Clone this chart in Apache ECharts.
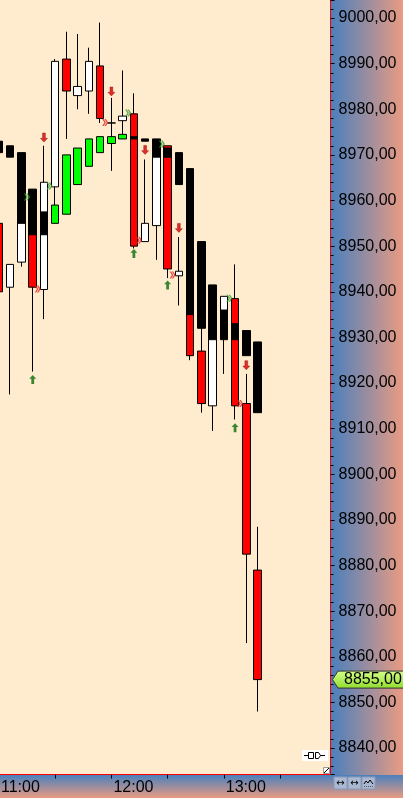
<!DOCTYPE html>
<html><head><meta charset="utf-8">
<script src="https://cdn.jsdelivr.net/npm/echarts@6/dist/echarts.min.js"></script>
<style>
html,body{margin:0;padding:0;background:#fff;overflow:hidden}
#wrap{position:relative;width:403px;height:798px;overflow:hidden}
#rstrip{position:absolute;left:331px;top:0;width:72px;height:775px;background:linear-gradient(to right,#4a80bd,#e99b82)}
#bstrip{position:absolute;left:0;top:775px;width:403px;height:23px;background:linear-gradient(to bottom,#4a80bd,#e99b82)}
#c{position:absolute;left:-20px;top:0;width:423px;height:798px}
</style>
</head><body>
<div id="wrap"><div id="rstrip"></div><div id="bstrip"></div><div id="c"></div></div>
<script>
// ---- data ----
const times = ['11:00','11:06','11:12','11:18','11:24','11:30','11:36','11:42','11:48','11:54',
               '12:00','12:06','12:12','12:18','12:24','12:30','12:36','12:42','12:48','12:54',
               '13:00','13:06','13:12','13:18','13:24','13:30','13:36','13:42','13:48','13:54'];
const priOpen  = [8955,8941,8946.5,8958,8940.5,8963,8991,8983,8984,8989.5,8977,8977.5,8979,8951,8954.5,8972,8943.5,8944,8927,8915,8930,8938.5,8915.5,8879];
const priClose = [8940,8946,8961,8941,8964,8990.5,8984,8985,8990.5,8978,8977,8978.5,8950,8955,8972,8945,8944.5,8926,8915.5,8932,8939,8915,8882.5,8855];
const priLow   = [8938,8917.5,8945.5,8922.5,8934,8957,8973.5,8980,8979,8977,8966.5,8974,8949.5,8951,8947,8943,8937,8925,8913.5,8909.5,8922,8912,8863,8848];
const priHigh  = [8956.5,8946,8962,8960,8972,8991,8997,8996.5,8993.5,8999,8982.5,8988.5,8983.5,8969,8973,8972,8952,8945,8935,8933,8939,8946,8922,8888.5];
const secOpen  = [8973,8972,8970.5,8962.5,8957.5,8955,8957,8963.5,8967.5,8970.5,8972.5,8973.5,8974,8973.5,8973.5,8971.5,8970.5,8967,8951,8941.5,8936,8933,8931.5,8929];
const secClose = [8970.5,8969.5,8955,8952.5,8952.5,8959,8970,8971.5,8973.5,8974,8974,8974.5,8973.5,8973,8969.5,8969.5,8963.5,8935,8932,8929.5,8929.5,8929.5,8926,8913.5];
const upArrowIdx    = [3,12,15,21];
const upArrowPrice  = [8920.8,8948.4,8941.5,8910.2];
const downArrowIdx  = [4,10,13,16,22];
const downArrowPrice= [8973.8,8983.9,8971.1,8954.0,8923.9];
const greenMarkIdx  = [2,4,11,14,20];
const greenMarkPrice= [8960.8,8963.2,8979.2,8972.4,8938.6];
const redMarkIdx    = [3,9,12,15,21];
const redMarkPrice  = [8940.6,8977.1,8951.3,8943.7,8915.5];
const lastPrice = 8855;
const yMin = 8834.2, yMax = 9003.95;

// ---- build ----
const OFF = 20; // chart canvas is shifted left by OFF px so the first bar is partly cut off
const priData = priOpen.map((o,i)=>[o, priClose[i], priLow[i], priHigh[i]]);
const secData = secOpen.map((o,i)=>[o, secClose[i], Math.min(o,secClose[i]), Math.max(o,secClose[i])]);
const pairs = (ix, pr) => ix.map((x,i)=>[x, pr[i]]);
const fmt = v => v.toFixed(2).replace('.', ',');
const FONT = 'Liberation Sans';

const chart = echarts.init(document.getElementById('c'), null, {renderer:'canvas'});
const option = {
  animation: false,
  backgroundColor: 'transparent',
  grid: {left: OFF - 6.62, right: 72.4, top: 0, bottom: 23.5, show: true, backgroundColor: '#FFEBCD', borderWidth: 0},
  xAxis: {
    type: 'category', data: times, boundaryGap: true,
    axisLine: {show: true, lineStyle: {color: '#ff0000', width: 1}},
    axisTick: {show: true, length: 4, alignWithLabel: true, interval: (i)=> i % 5 === 0, lineStyle: {color: '#000'}},
    axisLabel: {interval: (i)=> i % 10 === 0, align: 'left', margin: 5, padding: [0,0,0,2],
                fontFamily: FONT, fontSize: 16, color: '#000'},
    splitLine: {show: false}
  },
  yAxis: {
    type: 'value', position: 'right', min: yMin, max: yMax, splitNumber: 17, scale: true,
    axisLine: {show: true, lineStyle: {color: '#ff0000', width: 1}},
    axisTick: {show: true, length: 4, lineStyle: {color: '#000'}},
    minorTick: {show: true, splitNumber: 5, length: 3, lineStyle: {color: '#000'}},
    axisLabel: {margin: 8, fontFamily: FONT, fontSize: 16, color: '#000', showMinLabel: false, showMaxLabel: false,
                formatter: v => (Math.abs(v/10 - Math.round(v/10)) > 1e-6 ? '' : fmt(v))},
    splitLine: {show: false}
  },
  series: [
    {type: 'candlestick', name: 'price', data: priData, barWidth: 8,
     itemStyle: {color: '#ffffff', color0: '#ff0000', borderColor: '#000', borderColor0: '#000', borderWidth: 1}},
    {type: 'candlestick', name: 'overlay', data: secData, barWidth: 8,
     itemStyle: {color: '#00ff00', color0: '#000000', borderColor: '#000', borderColor0: '#000', borderWidth: 1}},
    {type: 'scatter', name: 'buy', data: pairs(upArrowIdx, upArrowPrice), symbol: 'path://M5,0L10,5L7,5L7,12L3,12L3,5L0,5Z',
     symbolSize: [7,9], itemStyle: {color: '#0a6e0a'}, z: 5},
    {type: 'scatter', name: 'sell', data: pairs(downArrowIdx, downArrowPrice), symbol: 'path://M3,0L7,0L7,7L10,7L5,12L0,7L3,7Z',
     symbolSize: [7,9], itemStyle: {color: '#d40000', borderColor: '#900000', borderWidth: 0.5}, z: 5},
    {type: 'scatter', name: 'gmark', data: pairs(greenMarkIdx, greenMarkPrice), symbol: 'path://M0,0L2,0L5,4L2,8L0,8L3,4Z M3,0L5,0L8,4L5,8L3,8L6,4Z',
     symbolSize: [6,7], symbolOffset: [5.5, 0], itemStyle: {color: '#2f9a2f'}, z: 6},
    {type: 'scatter', name: 'rmark', data: pairs(redMarkIdx, redMarkPrice), symbol: 'path://M0,0L2,0L5,4L2,8L0,8L3,4Z M3,0L5,0L8,4L5,8L3,8L6,4Z',
     symbolSize: [6,7], symbolOffset: [5, 0], itemStyle: {color: '#e02020'}, z: 6}
  ]
};
chart.setOption(option);

const ty = chart.convertToPixel({yAxisIndex: 0}, lastPrice);
const X = v => v + OFF;
chart.setOption({graphic: [
  {type: 'polygon', z: 20, shape: {points: [[X(332.5), ty], [X(338), ty-8.5], [X(404), ty-8.5], [X(404), ty+8.5], [X(338), ty+8.5]]},
   style: {fill: new echarts.graphic.LinearGradient(0,0,0,1,[{offset:0,color:'#d6ff8a'},{offset:1,color:'#8fdc2e'}]), stroke: '#333', lineWidth: 1}},
  {type: 'text', z: 21, x: X(344), y: ty, style: {text: fmt(lastPrice), font: '16px "Liberation Sans"', fill: '#000', verticalAlign: 'middle'}},
  // connector icon
  {type: 'rect', z: 20, shape: {x: X(302), y: 750, width: 26, height: 11}, style: {fill: '#ffffff'}},
  {type: 'polyline', z: 21, shape: {points: [[X(304),755.5],[X(308),755.5]]}, style: {stroke: '#000', lineWidth: 1}},
  {type: 'rect', z: 21, shape: {x: X(308.5), y: 752.5, width: 5, height: 6}, style: {fill: '#fff', stroke: '#000', lineWidth: 1}},
  {type: 'polyline', z: 21, shape: {points: [[X(315.5),752.5],[X(318.5),752.5],[X(320.5),755.5],[X(318.5),758.5],[X(315.5),758.5],[X(315.5),752.5]]}, style: {fill: 'none', stroke: '#000', lineWidth: 1}},
  {type: 'polyline', z: 21, shape: {points: [[X(320.5),755.5],[X(325),755.5]]}, style: {stroke: '#000', lineWidth: 1}},
  // corner resize box
  {type: 'rect', z: 20, shape: {x: X(323.5), y: 767.5, width: 6, height: 6}, style: {fill: '#fff', stroke: '#999', lineWidth: 1}},
  {type: 'line', z: 21, shape: {x1: X(324), y1: 773, x2: X(329), y2: 768}, style: {stroke: '#000', lineWidth: 1}},
  // toolbar icons bottom-right
  {type: 'rect', z: 20, shape: {x: X(334), y: 777, width: 13, height: 12}, style: {fill: '#aab8d2', stroke: '#8a9ab8', lineWidth: 1}},
  {type: 'rect', z: 20, shape: {x: X(348), y: 777, width: 13, height: 12}, style: {fill: '#aab8d2', stroke: '#8a9ab8', lineWidth: 1}},
  {type: 'rect', z: 20, shape: {x: X(362), y: 777, width: 13, height: 12}, style: {fill: '#aab8d2', stroke: '#8a9ab8', lineWidth: 1}},
  {type: 'text', z: 21, x: X(340.5), y: 783, style: {text: '↔', font: '10px "DejaVu Sans"', fill: '#000', align: 'center', verticalAlign: 'middle'}},
  {type: 'text', z: 21, x: X(354.5), y: 783, style: {text: '↔', font: '10px "DejaVu Sans"', fill: '#000', align: 'center', verticalAlign: 'middle'}},
  {type: 'polyline', z: 21, shape: {points: [[X(364),784],[X(366),781],[X(368),783],[X(370),780],[X(373),784]]}, style: {fill: 'none', stroke: '#000', lineWidth: 1}},
  {type: 'line', z: 21, shape: {x1: X(364), y1: 786.5, x2: X(373), y2: 786.5}, style: {stroke: '#555', lineWidth: 1, lineDash: [1,1]}}
]});
</script>
</body></html>
